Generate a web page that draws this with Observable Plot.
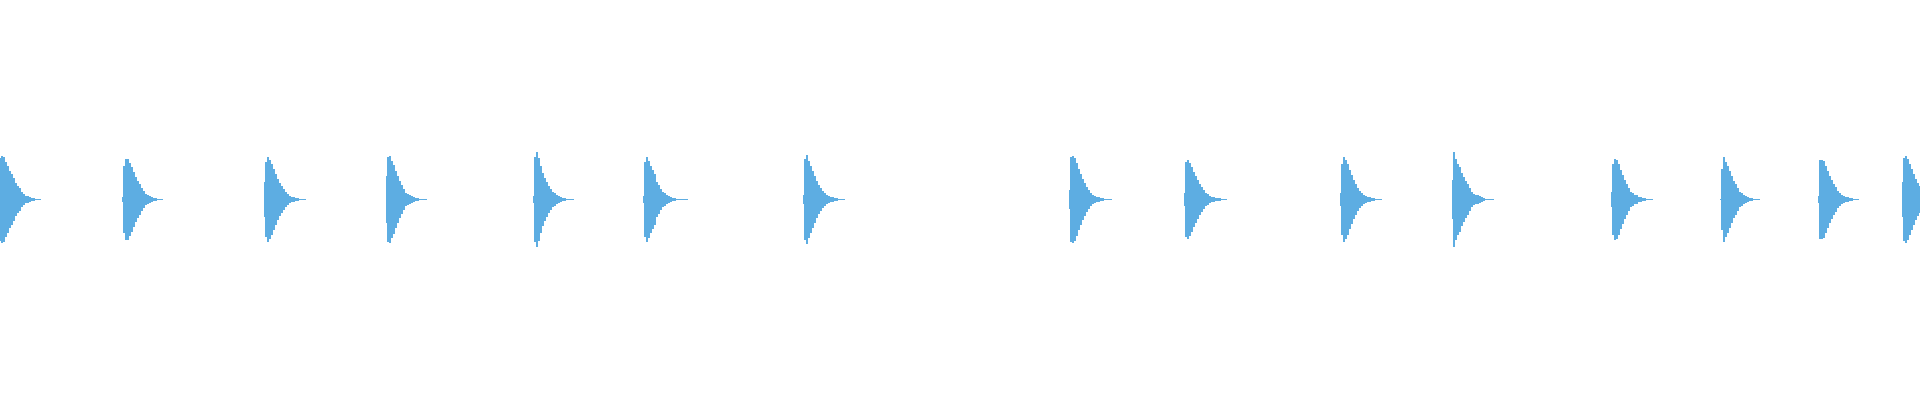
<!DOCTYPE html>
<html>
<head>
<meta charset="utf-8">
<script src="https://cdn.jsdelivr.net/npm/d3@7"></script>
<script src="https://cdn.jsdelivr.net/npm/@observablehq/plot@0.6"></script>
<style>
  html, body { margin: 0; padding: 0; background: #fff; }
  #chart svg { display: block; }
</style>
</head>
<body>
<div id="chart"></div>
<script>
// Onset time (ms) of each hit, level of the one sample before onset,
// total length of each hit (ms), and its decaying amplitude envelope
// sampled every 2 ms after onset.
const onsets = [-1, 123, 265, 387, 534, 644, 804, 1070, 1185, 1341, 1453, 1612, 1721, 1819, 1903];
const preLevels = [0, 2.5, 18, 23.7, 3.3, 3.3, 5, 10, 7, 7, 20, 7.7, 1, 3.3, 18];
const durations = [42, 40, 41, 40, 40, 44, 41, 42, 42, 41, 41, 41, 39, 40, 20];
const sampleStepMs = 2;
const envelopes = [
  [42, 44, 43, 38, 34, 29, 26, 22, 17, 14, 12, 8, 6, 4, 3.3, 2.3, 2, 1.3, 1, 0.5, 0.5],
  [34, 41, 41, 37, 33, 28, 23, 19, 16, 12, 9, 6, 4.3, 3.5, 2.7, 2, 1.3, 1, 0.5, 0.5],
  [38, 43, 40, 36, 31, 26, 21, 17, 14, 11, 8, 6, 4, 3, 2.3, 2, 1.5, 1, 0.7, 0.5, 0.5],
  [43, 44, 39, 35, 29, 24, 19, 15, 11, 7, 5.3, 4.3, 3.3, 2.3, 1.7, 1.5, 1, 0.5, 0.5, 0.5],
  [43, 48, 42, 34, 27, 22, 18, 14, 11, 8, 7, 5, 3.7, 2.7, 1.7, 1.7, 1, 0.5, 0.5, 0.5],
  [38, 43, 39, 34, 30, 26, 18, 15, 11, 8, 7, 5, 3.7, 2.7, 1.7, 1.7, 1, 0.5, 0.5, 0.5, 0.5, 0.5],
  [41, 45, 39, 34, 29, 24, 19, 15, 12, 9, 7, 5, 3.7, 2.7, 2.3, 1.7, 1.3, 1, 0.7, 0.5, 0.5],
  [43, 44, 42, 37, 31, 26, 21, 17, 13, 10, 7, 5, 4, 3, 2.3, 2, 1.5, 1, 0.7, 0.5, 0.5],
  [38, 40, 37, 33, 28, 24, 20, 16, 13, 10, 7, 5.5, 4, 3, 2.3, 2, 1.5, 1.2, 0.8, 0.5, 0.5],
  [36, 43, 40, 36, 30, 25, 20, 16, 12, 9, 7, 5, 4, 3, 2.3, 2, 1.5, 1, 0.7, 0.5, 0.5],
  [48, 41, 36, 33, 27, 23, 19, 16, 12, 8, 6, 5, 4.5, 3.3, 2.7, 1.7, 1, 1, 0.5, 0.5],
  [36, 41, 40, 36, 30, 25, 20, 16, 12, 8, 7, 5, 4.3, 2.7, 2.7, 1.7, 1.7, 1, 0.5, 0.5],
  [31, 43, 38, 34, 29, 24, 19, 16, 12, 8, 7, 5, 3.3, 2.7, 1.7, 1.7, 1, 0.5, 0.5],
  [40, 40, 39, 34, 29, 24, 20, 16, 13, 9, 7, 5, 3.7, 2.7, 2.7, 1.7, 1.7, 1, 0.5, 0.5],
  [42, 44, 41, 36, 31, 26, 21, 17, 14, 11]
];
const waveColor = "#5DADE2";

const rows = [];
onsets.forEach((t0, i) => {
  const env = envelopes[i];
  if (preLevels[i] > 0) rows.push({pulse: i, t: t0 - 1, a: preLevels[i]});
  env.forEach((a, k) => rows.push({pulse: i, t: t0 + k * sampleStepMs, a}));
  rows.push({pulse: i, t: t0 + durations[i], a: env[env.length - 1]});
});

const chart = Plot.plot({
  width: 1920,
  height: 400,
  marginTop: 0,
  marginRight: 0,
  marginBottom: 1,
  marginLeft: 0,
  x: {domain: [0, 1920], axis: null},
  y: {domain: [-200, 200], axis: null},
  marks: [
    Plot.areaY(rows, {
      x: "t",
      y1: d => -d.a,
      y2: d => d.a,
      z: "pulse",
      curve: "step-after",
      fill: waveColor,
      shapeRendering: "crispEdges",
      clip: true
    })
  ]
});
document.getElementById("chart").append(chart);
</script>
</body>
</html>
